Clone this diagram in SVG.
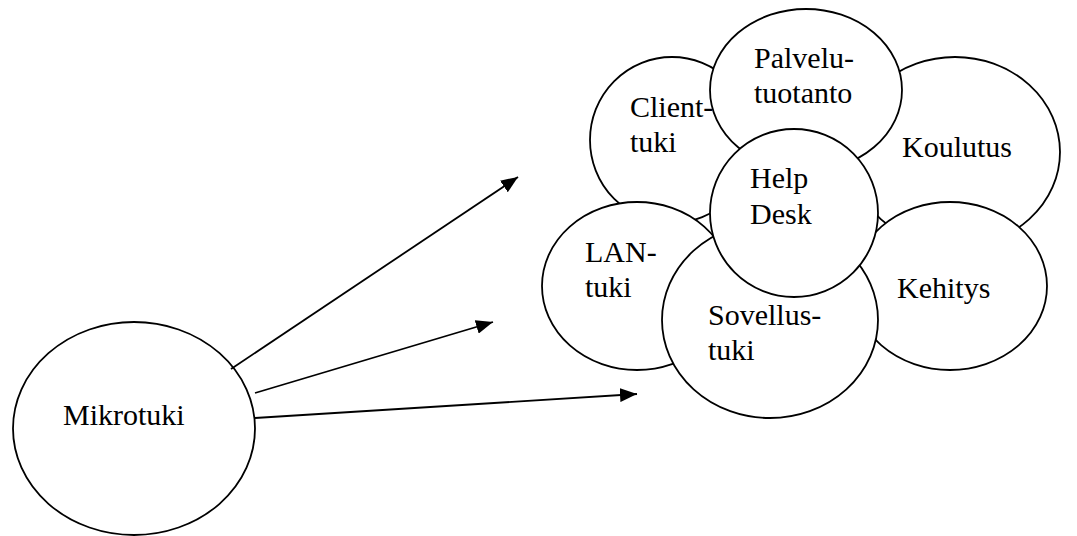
<svg xmlns="http://www.w3.org/2000/svg" width="1077" height="536" viewBox="0 0 1077 536">
<defs>
<style>
.n{fill:#fff;stroke:#000;stroke-width:1.8}
.t{font-family:"Liberation Serif","Times New Roman",serif;font-size:30px;fill:#000}
.c{stroke:#000;stroke-width:1.8;fill:none}
</style>
<marker id="ah" markerWidth="17" markerHeight="14" refX="17" refY="7" orient="auto" markerUnits="userSpaceOnUse">
<path d="M0,0 L17,7 L0,14 Z" fill="#000"/>
</marker>
</defs>
<rect width="1077" height="536" fill="#fff"/>
<g id="mikrotuki">
<ellipse class="n" cx="134" cy="428.5" rx="121" ry="106.5"/>
<text class="t" x="63" y="425">Mikrotuki</text>
</g>
<g id="koulutus">
<ellipse class="n" cx="955" cy="152" rx="105" ry="95"/>
<text class="t" x="902" y="157">Koulutus</text>
</g>
<g id="clienttuki">
<ellipse class="n" cx="672" cy="140" rx="82" ry="83"/>
<text class="t" x="630" y="117">Client-</text>
<text class="t" x="630" y="152">tuki</text>
</g>
<g id="palvelutuotanto">
<ellipse class="n" cx="806" cy="90" rx="96" ry="81"/>
<text class="t" x="754" y="68">Palvelu-</text>
<text class="t" x="754" y="103">tuotanto</text>
</g>
<g id="lantuki">
<ellipse class="n" cx="637" cy="286" rx="95" ry="84"/>
<text class="t" x="585" y="262">LAN-</text>
<text class="t" x="585" y="297">tuki</text>
</g>
<g id="kehitys">
<ellipse class="n" cx="950" cy="286" rx="97" ry="84"/>
<text class="t" x="897" y="298">Kehitys</text>
</g>
<g id="sovellustuki">
<ellipse class="n" cx="770" cy="320" rx="108" ry="98"/>
<text class="t" x="708" y="325">Sovellus-</text>
<text class="t" x="708" y="360">tuki</text>
</g>
<g id="helpdesk">
<ellipse class="n" cx="794" cy="213" rx="84" ry="84"/>
<text class="t" x="750" y="188">Help</text>
<text class="t" x="750" y="224">Desk</text>
</g>
<g id="connectors">
<line class="c" x1="231" y1="369" x2="518" y2="177" marker-end="url(#ah)"/>
<line class="c" x1="255" y1="393" x2="493" y2="322" marker-end="url(#ah)"/>
<line class="c" x1="255" y1="418" x2="637" y2="394" marker-end="url(#ah)"/>
</g>
</svg>
